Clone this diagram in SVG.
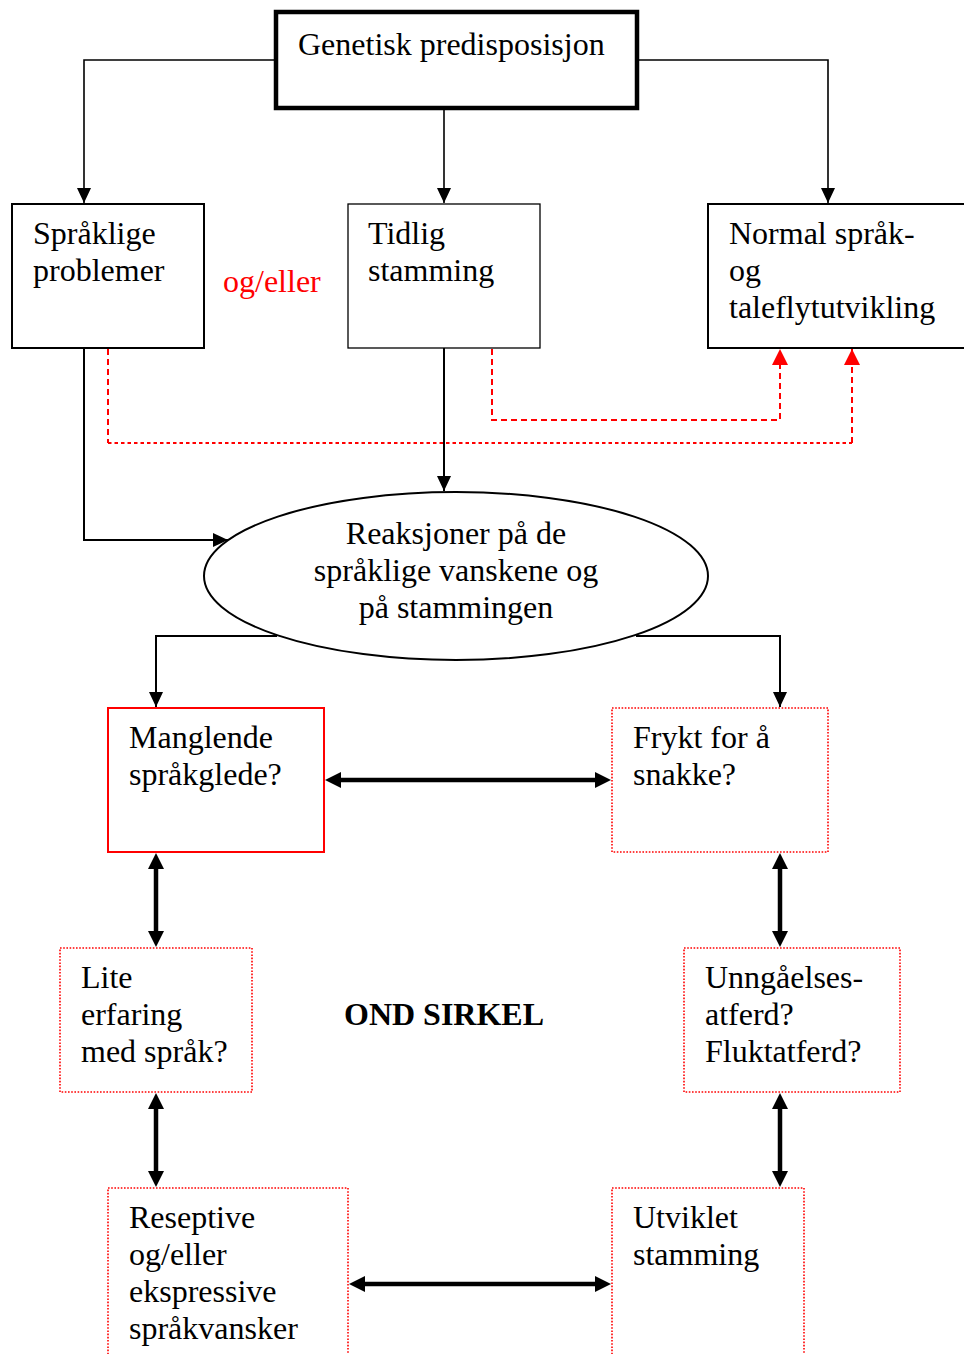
<svg xmlns="http://www.w3.org/2000/svg" width="964" height="1354" viewBox="0 0 964 1354">
<style>
  text { font-family: "Liberation Serif", "Times New Roman", serif; font-size: 32px; fill: #000; }
  .box { fill: #fff; stroke: #000; stroke-width: 2; }
  .thin { stroke-width: 1.3; }
  .redsolid { fill: #fff; stroke: #ff0000; stroke-width: 2; }
  .reddot { fill: #fff; stroke: #ff0000; stroke-width: 1.6; stroke-dasharray: 1.6 1.6; }
  .conn { fill: none; stroke: #000; stroke-width: 1.6; }
  .conn2 { fill: none; stroke: #000; stroke-width: 2; }
  .thick { fill: none; stroke: #000; stroke-width: 4.5; marker-start: url(#dbl); marker-end: url(#dbl); }
  .rdash { fill: none; stroke: #ff0000; stroke-width: 2; }
</style>
<defs>
  <marker id="arr" markerUnits="userSpaceOnUse" markerWidth="16" markerHeight="14" refX="15" refY="7" orient="auto">
    <path d="M0,0 L15,7 L0,14 z" fill="#000"/>
  </marker>
  <marker id="rarr" markerUnits="userSpaceOnUse" markerWidth="17" markerHeight="17" refX="16" refY="8" orient="auto">
    <path d="M0,0 L16,8 L0,16 z" fill="#ff0000"/>
  </marker>
  <marker id="dbl" markerUnits="userSpaceOnUse" markerWidth="17" markerHeight="17" refX="8" refY="8" orient="auto-start-reverse">
    <path d="M0,0 L16,8 L0,16 z" fill="#000"/>
  </marker>
</defs>

<g id="connectors">
  <path class="conn" d="M276,60 H84 V203" marker-end="url(#arr)"/>
  <path class="conn" d="M444,110 V203" marker-end="url(#arr)"/>
  <path class="conn" d="M637,60 H828 V203" marker-end="url(#arr)"/>
  <path class="conn2" d="M84,348 V540 H228" marker-end="url(#arr)"/>
  <path class="conn2" d="M444,348 V491" marker-end="url(#arr)"/>
  <path class="conn2" d="M277,636 H156 V707" marker-end="url(#arr)"/>
  <path class="conn2" d="M636,636 H780 V707" marker-end="url(#arr)"/>
  <path class="rdash" stroke-dasharray="6 4" d="M492,349 V420 H780 V349" marker-end="url(#rarr)"/>
  <path class="rdash" stroke-dasharray="6 4" d="M108,349 V443"/>
  <path class="rdash" stroke-dasharray="3.5 3" d="M108,443 H852"/>
  <path class="rdash" stroke-dasharray="6 4" d="M852,443 V349" marker-end="url(#rarr)"/>
  <path class="thick" d="M333,780 H603"/>
  <path class="thick" d="M156,861 V939"/>
  <path class="thick" d="M780,861 V939"/>
  <path class="thick" d="M156,1101 V1179"/>
  <path class="thick" d="M780,1101 V1179"/>
  <path class="thick" d="M357,1284 H603"/>
</g>

<g id="genetisk">
  <rect x="276" y="12" width="361" height="96" fill="#fff" stroke="#000" stroke-width="4.5"/>
  <text x="298" y="55">Genetisk predisposisjon</text>
</g>

<g id="spraklige">
  <rect class="box" x="12" y="204" width="192" height="144"/>
  <text x="33" y="244">Språklige</text>
  <text x="33" y="281">problemer</text>
</g>

<g id="og-eller">
  <text x="223" y="292" style="fill:#ff0000">og/eller</text>
</g>

<g id="tidlig">
  <rect class="box thin" x="348" y="204" width="192" height="144"/>
  <text x="368" y="244">Tidlig</text>
  <text x="368" y="281">stamming</text>
</g>

<g id="normal">
  <rect class="box" x="708" y="204" width="300" height="144"/>
  <text x="729" y="244">Normal språk-</text>
  <text x="729" y="281">og</text>
  <text x="729" y="318">taleflytutvikling</text>
</g>

<g id="reaksjoner">
  <ellipse cx="456" cy="576" rx="252" ry="84" fill="none" stroke="#000" stroke-width="2"/>
  <text x="456" y="544" text-anchor="middle">Reaksjoner på de</text>
  <text x="456" y="581" text-anchor="middle">språklige vanskene og</text>
  <text x="456" y="618" text-anchor="middle">på stammingen</text>
</g>

<g id="manglende">
  <rect class="redsolid" x="108" y="708" width="216" height="144"/>
  <text x="129" y="748">Manglende</text>
  <text x="129" y="785">språkglede?</text>
</g>

<g id="frykt">
  <rect class="reddot" x="612" y="708" width="216" height="144"/>
  <text x="633" y="748">Frykt for å</text>
  <text x="633" y="785">snakke?</text>
</g>

<g id="lite">
  <rect class="reddot" x="60" y="948" width="192" height="144"/>
  <text x="81" y="988">Lite</text>
  <text x="81" y="1025">erfaring</text>
  <text x="81" y="1062">med språk?</text>
</g>

<g id="ond-sirkel">
  <text x="344" y="1025" font-weight="bold">OND SIRKEL</text>
</g>

<g id="unngaelse">
  <rect class="reddot" x="684" y="948" width="216" height="144"/>
  <text x="705" y="988">Unngåelses-</text>
  <text x="705" y="1025">atferd?</text>
  <text x="705" y="1062">Fluktatferd?</text>
</g>

<g id="reseptive">
  <rect class="reddot" x="108" y="1188" width="240" height="200"/>
  <text x="129" y="1228">Reseptive</text>
  <text x="129" y="1265">og/eller</text>
  <text x="129" y="1302">ekspressive</text>
  <text x="129" y="1339">språkvansker</text>
</g>

<g id="utviklet">
  <rect class="reddot" x="612" y="1188" width="192" height="200"/>
  <text x="633" y="1228">Utviklet</text>
  <text x="633" y="1265">stamming</text>
</g>
</svg>
